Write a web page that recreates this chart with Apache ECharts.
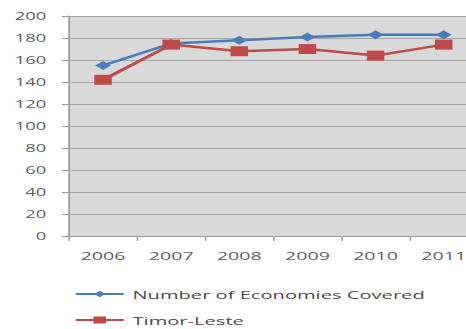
<!DOCTYPE html>
<html><head><meta charset="utf-8">
<script src="https://cdn.jsdelivr.net/npm/echarts@6/dist/echarts.min.js"></script>
<style>
html,body{margin:0;padding:0;background:#fff;overflow:hidden;width:466px;height:329px}
#c{height:329px;transform-origin:0 0}
</style>
</head><body><div id="c"></div>
<script>
var years = ['2006','2007','2008','2009','2010','2011'];
var economiesCovered = [155, 175, 178, 181, 183, 183];
var timorLeste = [142, 174, 168, 170, 164, 174];
var yTicks = {min: 0, max: 200, interval: 20};

// the reference image is horizontally stretched; reproduce via a horizontal scale
var S = 1.75;
var el = document.getElementById('c');
el.style.width = (478 / S) + 'px';
el.style.transform = 'scaleX(' + S + ')';

var chart = echarts.init(el, null, {renderer: 'svg'});
var yLbl = {color: '#5f5f5f', fontFamily: 'Open Sans', fontSize: 10.5};
var xLbl = {color: '#5f5f5f', fontFamily: 'Open Sans', fontSize: 11.2};
var legText = {color: '#4a4a4a', fontFamily: 'Open Sans', fontSize: 11.5};
chart.setOption({
  animation: false,
  grid: {left: 69 / S, top: 16, right: 0, height: 220, show: true, backgroundColor: '#d9d9d9', borderWidth: 0},
  xAxis: {
    type: 'category', data: years, boundaryGap: true,
    axisLine: {show: true, lineStyle: {color: '#999', width: 1}},
    axisTick: {show: true, length: 5, lineStyle: {color: '#aaa'}},
    axisLabel: Object.assign({margin: 14}, xLbl),
    splitLine: {show: false}
  },
  yAxis: {
    type: 'value', min: yTicks.min, max: yTicks.max, interval: yTicks.interval,
    axisLine: {show: true, lineStyle: {color: '#999', width: 1}},
    axisTick: {show: true, length: 4, lineStyle: {color: '#999'}},
    axisLabel: Object.assign({margin: 13}, yLbl),
    splitLine: {show: true, lineStyle: {color: '#a6a6a6', width: 1}}
  },
  legend: [
    {left: 74 / S, top: 288, padding: 0, itemWidth: 48 / S, itemHeight: 8, itemGap: 0,
     textStyle: legText, data: ['Number of Economies Covered']},
    {left: 74 / S, top: 314, padding: 0, itemWidth: 48 / S, itemHeight: 9, itemGap: 0,
     textStyle: legText, data: ['Timor-Leste']}
  ],
  series: [
    {name: 'Number of Economies Covered', type: 'line', data: economiesCovered,
     symbol: 'diamond', symbolSize: 9, color: '#4a7ebb',
     lineStyle: {width: 2.5, color: '#4a7ebb'}, itemStyle: {color: '#4a7ebb'}},
    {name: 'Timor-Leste', type: 'line', data: timorLeste,
     symbol: 'rect', symbolSize: 10, color: '#be4b48',
     lineStyle: {width: 2.5, color: '#be4b48'}, itemStyle: {color: '#be4b48'}}
  ]
});
</script></body></html>
